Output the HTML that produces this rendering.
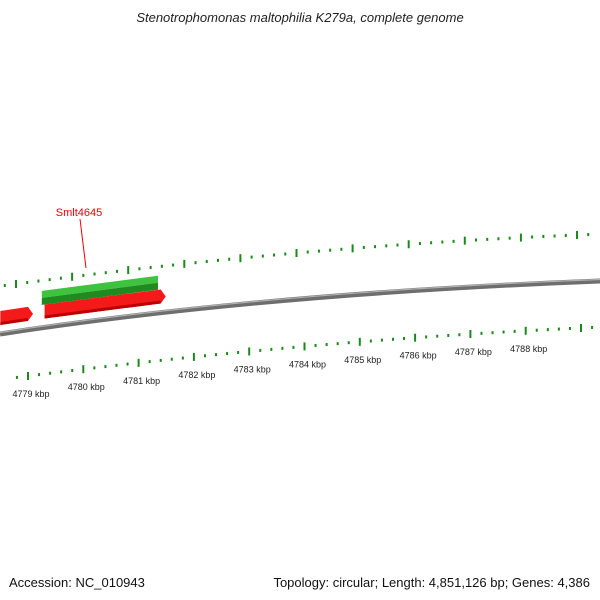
<!DOCTYPE html>
<html><head><meta charset="utf-8"><style>
html,body{margin:0;padding:0;background:#fff}
svg{display:block;font-family:"Liberation Sans","DejaVu Sans",sans-serif}
</style></head><body>
<svg id="c" width="600" height="600" viewBox="0 0 600 600">
<defs>
<linearGradient id="gb" x1="0" y1="0" x2="0" y2="1"><stop offset="0" stop-color="#aaa"/><stop offset="0.5" stop-color="#777"/><stop offset="1" stop-color="#555"/></linearGradient>
</defs>
<text x="300" y="22" text-anchor="middle" font-size="13" font-style="italic" fill="#222">Stenotrophomonas maltophilia K279a, complete genome</text>
<path d="M0,334 Q260,294 600,281" stroke="#6e6e6e" stroke-width="5" fill="none"/>
<path d="M0,332.5 Q260,292.5 600,279.5" stroke="#b0b0b0" stroke-width="1.2" fill="none"/>
<g id="ticks"></g>
<g id="genes"></g>
<text x="79" y="216" text-anchor="middle" font-size="11" fill="#e00">Smlt4645</text>
<line x1="80" y1="219" x2="86" y2="268" stroke="#e00" stroke-width="1"/>
<text x="9" y="587" font-size="13" fill="#111">Accession: NC_010943</text>
<text x="590" y="587" text-anchor="end" font-size="13" fill="#111">Topology: circular; Length: 4,851,126 bp; Genes: 4,386</text>
</svg>
<script>
const kbpLabels = [4779,4780,4781,4782,4783,4784,4785,4786,4787,4788];
const kbpStart = 4778.8, kbpEnd = 4789.2;
const geneNames = ["Smlt4645-fwd","Smlt4645","prev-gene"];
const geneStartKbp = [4779.25, 4779.3, 4778.5];
const geneEndKbp = [4781.35, 4781.4, 4779.0];
const geneTrack = ["upper","lower","lower"];

const NS="http://www.w3.org/2000/svg";
function interp(pts,x){let r=0;for(let i=0;i<pts.length;i++){let t=pts[i][1];for(let j=0;j<pts.length;j++){if(j!==i)t*=(x-pts[j][0])/(pts[i][0]-pts[j][0]);}r+=t;}return r;}
const upPts=[[16,284],[183,264],[577,235]];
const loPts=[[28,376],[193,357],[581,328]];
const xUp=k=>16+(k-4779)*56.1;
const xLo=k=>28+(k-4779)*55.3;
const tg=document.getElementById('ticks');
for(let i=0;;i++){
  const k=kbpStart+i*0.2; if(k>kbpEnd) break;
  const major=Math.abs(k-Math.round(k))<0.01;
  const h=major?8:3;
  [[xUp(k),upPts],[xLo(k),loPts]].forEach(([x,p],row)=>{
    const y=interp(p,x);
    const l=document.createElementNS(NS,'rect');
    l.setAttribute('x',x-1);l.setAttribute('y',y-h/2);l.setAttribute('width',2);l.setAttribute('height',h);
    l.setAttribute('fill','#1a8a1a');
    
    
    tg.appendChild(l);
  });
}
kbpLabels.forEach(k=>{
  const x=xLo(k);const y=interp(loPts,x);
  const t=document.createElementNS(NS,'text');
  t.setAttribute('x',x+3);t.setAttribute('y',y+21);t.setAttribute('text-anchor','middle');
  t.setAttribute('font-size','9');t.setAttribute('fill','#222');
  t.textContent=k+' kbp';
  
  
  tg.appendChild(t);
});
const bb=x=>interp([[0,334],[200,308],[600,281]],x);
const gg=document.getElementById('genes');
geneNames.forEach((n,i)=>{
  const x1=xLo(geneStartKbp[i])-0, x2=xLo(geneEndKbp[i]);
  const up=geneTrack[i]==="upper";
  const off1=up?-30:-16, h=up?14:14;
  const y1=bb(x1)+off1-h/2, y2=bb(x2)+off1-h/2;
  const g=document.createElementNS(NS,'g');
  
  
  if(up){
    const a=document.createElementNS(NS,'polygon');
    a.setAttribute('points',`${x1},${y1} ${x2},${y2} ${x2},${y2+h/2} ${x1},${y1+h/2}`);
    a.setAttribute('fill','#3dc33d');g.appendChild(a);
    const b=document.createElementNS(NS,'polygon');
    b.setAttribute('points',`${x1},${y1+h/2} ${x2},${y2+h/2} ${x2},${y2+h} ${x1},${y1+h}`);
    b.setAttribute('fill','#1f8a1f');g.appendChild(b);
  } else {
    const tip=x2+5;
    const a=document.createElementNS(NS,'polygon');
    a.setAttribute('points',`${x1},${y1} ${x2},${y2} ${tip},${y2+h/2} ${x2},${y2+h} ${x1},${y1+h}`);
    a.setAttribute('fill','#f41a1a');g.appendChild(a);
    const b=document.createElementNS(NS,'polygon');
    b.setAttribute('points',`${x1},${y1+h-3} ${x2},${y2+h-3} ${x2},${y2+h} ${x1},${y1+h}`);
    b.setAttribute('fill','#b00');g.appendChild(b);
  }
  gg.appendChild(g);
});
</script>
</body></html>
